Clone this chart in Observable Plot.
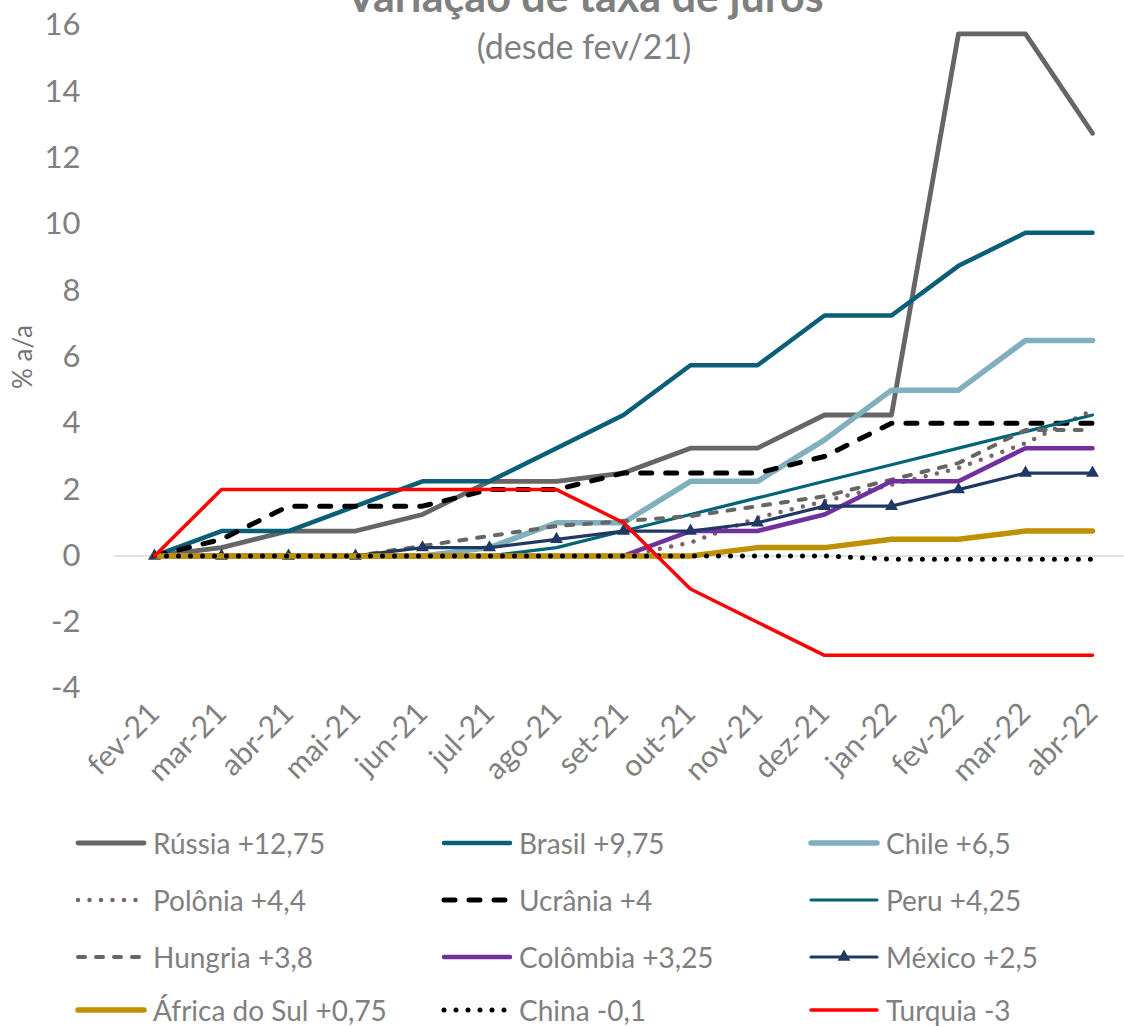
<!DOCTYPE html>
<html>
<head>
<meta charset="utf-8">
<script src="https://cdn.jsdelivr.net/npm/d3@7"></script>
<script src="https://cdn.jsdelivr.net/npm/@observablehq/plot@0.6"></script>
<style>
  body { margin: 0; background: #fff; font-family: Lato, "Open Sans", sans-serif; }
  #wrap { position: relative; width: 1124px; height: 1026px; overflow: hidden; background: #fff; }
  #chart { position: absolute; left: 0; top: 0; }
  #title { position: absolute; left: 0; width: 1170px; text-align: center; top: -26px; font-size: 43px; line-height: 1; font-weight: bold; color: #7f7f7f; white-space: nowrap; }
  #subtitle { position: absolute; left: 0; width: 1168px; text-align: center; top: 29px; font-size: 34px; line-height: 1; color: #808080; white-space: nowrap; }
  #ylabel { position: absolute; left: 22px; top: 357px; transform: translate(-50%, -50%) rotate(-90deg); font-size: 26px; color: #737373; white-space: nowrap; }
  .leg { position: absolute; height: 30px; line-height: 30px; display: flex; align-items: center; font-size: 28px; color: #808080; white-space: nowrap; }
  .leg svg { margin-right: 6px; }
</style>
</head>
<body>
<div id="wrap">
  <div id="chart"></div>
  <div id="title">Variação de taxa de juros</div>
  <div id="subtitle">(desde fev/21)</div>
  <div id="ylabel">% a/a</div>
  <div id="legend"></div>
</div>
<script>
const months = ["fev-21","mar-21","abr-21","mai-21","jun-21","jul-21","ago-21","set-21","out-21","nov-21","dez-21","jan-22","fev-22","mar-22","abr-22"];
const yTicks = [-4,-2,0,2,4,6,8,10,12,14,16];

const russia   = [0,0.25,0.75,0.75,1.25,2.25,2.25,2.5,3.25,3.25,4.25,4.25,15.75,15.75,12.75];
const brasil   = [0,0.75,0.75,1.5,2.25,2.25,3.25,4.25,5.75,5.75,7.25,7.25,8.75,9.75,9.75];
const chile    = [0,0,0,0,0,0.25,1,1,2.25,2.25,3.5,5,5,6.5,6.5];
const polonia  = [0,0,0,0,0,0,0,0,0.4,1.15,1.65,2.15,2.65,3.4,4.4];
const ucrania  = [0,0.5,1.5,1.5,1.5,2,2,2.5,2.5,2.5,3,4,4,4,4];
const peru     = [0,0,0,0,0,0,0.25,0.75,1.25,1.75,2.25,2.75,3.25,3.75,4.25];
const hungria  = [0,0,0,0,0.3,0.6,0.9,1.05,1.2,1.5,1.8,2.3,2.8,3.8,3.8];
const colombia = [0,0,0,0,0,0,0,0,0.75,0.75,1.25,2.25,2.25,3.25,3.25];
const mexico   = [0,0,0,0,0.25,0.25,0.5,0.75,0.75,1,1.5,1.5,2,2.5,2.5];
const africa   = [0,0,0,0,0,0,0,0,0,0.25,0.25,0.5,0.5,0.75,0.75];
const china    = [0,0,0,0,0,0,0,0,0,0,0,-0.1,-0.1,-0.1,-0.1];
const turquia  = [0,2,2,2,2,2,2,1,-1,-2,-3,-3,-3,-3,-3];

const seriesNames = ["Rússia +12,75","Brasil +9,75","Chile +6,5","Polônia +4,4","Ucrânia +4","Peru +4,25","Hungria +3,8","Colômbia +3,25","México +2,5","África do Sul +0,75","China -0,1","Turquia -3"];
const seriesValues = [russia, brasil, chile, polonia, ucrania, peru, hungria, colombia, mexico, africa, china, turquia];

const styles = [
  {stroke:"#666666", w:4.8},
  {stroke:"#0a5e78", w:4.5},
  {stroke:"#80b0bd", w:5.5},
  {stroke:"#7b6468", w:4.5, dash:"0 11.5", cap:"round"},
  {stroke:"#000000", w:5, dash:"11 14", cap:"round"},
  {stroke:"#006475", w:3.2},
  {stroke:"#666666", w:4, dash:"7 11", cap:"round"},
  {stroke:"#7030a0", w:4.5},
  {stroke:"#203864", w:3.2, marker:true},
  {stroke:"#bf9000", w:5.5},
  {stroke:"#000000", w:5, dash:"0 12", cap:"round"},
  {stroke:"#ff0000", w:3.5}
];

const marks = [Plot.ruleY([0], {stroke:"#d9d9d9", strokeWidth:1.5})];
seriesValues.forEach((vals, k) => {
  const st = styles[k];
  const data = months.map((m, i) => ({m, v: vals[i]}));
  marks.push(Plot.line(data, {
    x:"m", y:"v", stroke: st.stroke, strokeWidth: st.w,
    strokeDasharray: st.dash, strokeLinecap: st.cap || "round", strokeLinejoin:"round"
  }));
  if (st.marker) {
    marks.push(Plot.dot(data, {x:"m", y:"v", symbol:"triangle", r:4.8, fill: st.stroke, stroke:"none"}));
  }
});

marks.push(Plot.axisY({ticks: yTicks, tickSize:0, tickPadding:34, fontSize:31, label:null, tickFormat: d => d < 0 ? "-" + Math.abs(d) : String(d)}));
marks.push(Plot.axisX({tickSize:0, tickRotate:-45, tickPadding:20, fontSize:30, label:null}));

const chart = Plot.plot({
  width: 1124,
  height: 810,
  marginTop: 25,
  marginBottom: 122,
  marginLeft: 114,
  marginRight: 0,
  style: {fontFamily: "Lato, 'Open Sans', sans-serif", color: "#808080", background: "transparent", overflow: "visible"},
  x: {type: "point", domain: months, range: [148, 1097], padding: 0},
  y: {domain: [-4, 16]},
  marks
});
document.getElementById("chart").appendChild(chart);

// Legend
const legend = document.getElementById("legend");
const colX = [75, 441, 808];
const rowY = [843, 900, 957, 1010];
seriesNames.forEach((name, k) => {
  const st = styles[k];
  const div = document.createElement("div");
  div.className = "leg";
  div.style.left = colX[k % 3] + "px";
  div.style.top = (rowY[Math.floor(k / 3)] - 15) + "px";
  const ns = "http://www.w3.org/2000/svg";
  const svg = document.createElementNS(ns, "svg");
  svg.setAttribute("width", 72); svg.setAttribute("height", 20);
  const ln = document.createElementNS(ns, "line");
  ln.setAttribute("x1", 3); ln.setAttribute("x2", 69);
  ln.setAttribute("y1", 10); ln.setAttribute("y2", 10);
  ln.setAttribute("stroke", st.stroke);
  ln.setAttribute("stroke-width", st.w);
  ln.setAttribute("stroke-linecap", st.cap || "round");
  if (st.dash) ln.setAttribute("stroke-dasharray", st.dash);
  svg.appendChild(ln);
  if (st.marker) {
    const tri = document.createElementNS(ns, "path");
    tri.setAttribute("d", d3.symbol(d3.symbolTriangle, 4.8*4.8*Math.PI)());
    tri.setAttribute("transform", "translate(36,10)");
    tri.setAttribute("fill", st.stroke);
    svg.appendChild(tri);
  }
  div.appendChild(svg);
  const span = document.createElement("span");
  span.textContent = name;
  div.appendChild(span);
  legend.appendChild(div);
});
</script>
</body>
</html>
